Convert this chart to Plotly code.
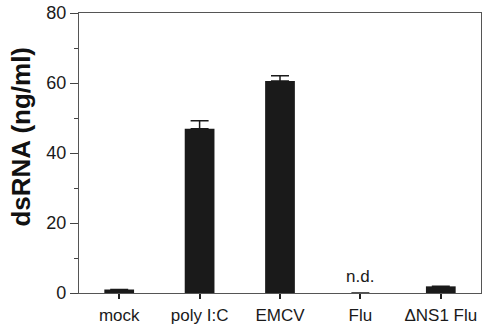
import plotly.graph_objects as go

categories = ["mock", "poly I:C", "EMCV", "Flu", "ΔNS1 Flu"]
values = [1.0, 46.9, 60.6, 0.0, 1.9]
errors_plus = [None, 2.3, 1.5, None, None]
y_tick_vals = [0, 20, 40, 60, 80]
y_title = "dsRNA (ng/ml)"
nd_label = "n.d."
nd_category = "Flu"

FONT = "Arial, Liberation Sans, Helvetica, sans-serif"

fig = go.Figure()
fig.add_trace(go.Bar(
    x=categories, y=values,
    marker=dict(color="#1a1a1a", line=dict(width=0)),
    error_y=dict(type="data", symmetric=False, array=errors_plus,
                 arrayminus=[0 if e is not None else None for e in errors_plus],
                 color="#1a1a1a", thickness=1.5, width=9, visible=True),
    width=0.37,
))

fig.add_annotation(x=nd_category, y=0, yref="y", xref="x", text=nd_label,
                   showarrow=False, yshift=17, yanchor="middle",
                   font=dict(family=FONT, size=17, color="#1a1a1a"))

fig.add_annotation(xref="paper", yref="paper", x=-0.143, y=0.557,
                   text="<b>" + y_title + "</b>", textangle=-90, showarrow=False,
                   xanchor="center", yanchor="middle",
                   font=dict(family=FONT, size=26, color="#111"))

fig.update_layout(
    width=483, height=326,
    margin=dict(l=79, r=2, t=13, b=33, autoexpand=False),
    paper_bgcolor="white", plot_bgcolor="white",
    showlegend=False,
    font=dict(family=FONT, size=17, color="#1a1a1a"),
    xaxis=dict(range=[-0.5, 4.5], showline=True, linecolor="#555", linewidth=1.2,
               mirror=True, ticks="outside", ticklen=5, tickcolor="#222",
               tickwidth=1.5, showgrid=False, zeroline=False, automargin=False,
               ticklabelstandoff=1, tickfont=dict(size=17)),
    yaxis=dict(range=[0, 80], tickvals=y_tick_vals, showline=True,
               linecolor="#555", linewidth=1.2, mirror=True, ticks="outside",
               ticklen=8, tickcolor="#444", tickwidth=1, showgrid=False,
               zeroline=False, automargin=False, tickfont=dict(size=18),
               minor=dict(dtick=10, ticks="outside", ticklen=4, tickcolor="#444",
                          showgrid=False)),
)

fig.write_html("out.html", config={"displayModeBar": False},
               post_script="document.body.style.margin='0';document.body.style.overflow='hidden';")
